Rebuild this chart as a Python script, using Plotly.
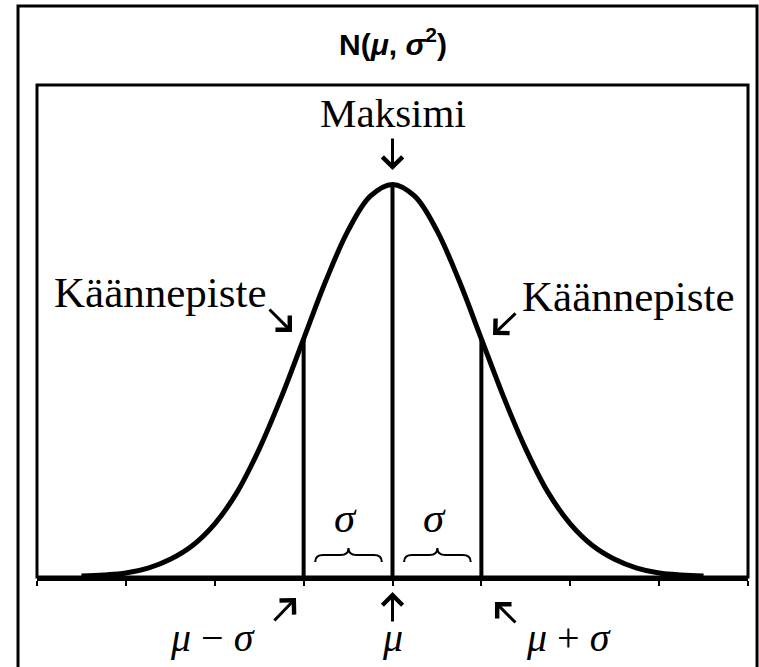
import plotly.graph_objects as go

# density of N(mu, sigma^2), x in units of sigma
x_vals = [-3.5, -3.25, -3.0, -2.75, -2.5, -2.25, -2.0, -1.75, -1.5, -1.25, -1.0, -0.75, -0.5, -0.25,
          0.0, 0.25, 0.5, 0.75, 1.0, 1.25, 1.5, 1.75, 2.0, 2.25, 2.5, 2.75, 3.0, 3.25, 3.5]
density = [0.001, 0.002, 0.004, 0.009, 0.018, 0.032, 0.054, 0.086, 0.130, 0.183, 0.242, 0.301, 0.352, 0.387,
           0.399, 0.387, 0.352, 0.301, 0.242, 0.183, 0.130, 0.086, 0.054, 0.032, 0.018, 0.009, 0.004, 0.002, 0.001]

# vertical markers at mu - sigma, mu, mu + sigma
marker_x = [-1, 0, 1]
marker_y = [0.242, 0.399, 0.242]
bottom_labels = ["<i>μ</i> − <i>σ</i>", "<i>μ</i>", "<i>μ</i> + <i>σ</i>"]

tick_vals = [-4, -3, -2, -1, 0, 1, 2, 3, 4]

SERIF = "Liberation Serif, Times New Roman, serif"
SANS = "Liberation Sans, Arial, sans-serif"

fig = go.Figure()

# the bell curve
fig.add_trace(
    go.Scatter(
        x=x_vals,
        y=density,
        mode="lines",
        line=dict(color="black", width=5, shape="spline"),
        showlegend=False,
        hoverinfo="skip",
    )
)

# vertical lines from axis up to the curve
vx, vy = [], []
for mx, my in zip(marker_x, marker_y):
    vx += [mx, mx, None]
    vy += [0, my, None]
fig.add_trace(
    go.Scatter(
        x=vx,
        y=vy,
        mode="lines",
        line=dict(color="black", width=4),
        showlegend=False,
        hoverinfo="skip",
    )
)

shapes = [
    # inner frame around plot area
    dict(type="rect", xref="paper", yref="paper", x0=0, x1=1, y0=0, y1=1,
         line=dict(color="black", width=3)),
    # outer frame
    dict(type="rect", xref="paper", yref="paper", x0=-0.0267, x1=1.0127, y0=-0.187, y1=1.1606,
         line=dict(color="black", width=3)),
]


def brace(x0, x1, y_bot, y_mid, y_top, d=0.09):
    xm = (x0 + x1) / 2
    path = (
        f"M{x0},{y_bot} Q{x0},{y_mid} {x0 + d},{y_mid} L{xm - d},{y_mid} "
        f"Q{xm},{y_mid} {xm},{y_top} Q{xm},{y_mid} {xm + d},{y_mid} "
        f"L{x1 - d},{y_mid} Q{x1},{y_mid} {x1},{y_bot}"
    )
    return dict(type="path", xref="x", yref="paper", path=path,
                line=dict(color="black", width=2))


# braces under the sigma labels
for a, b in zip(marker_x[:-1], marker_x[1:]):
    shapes.append(brace(a + 0.13, b - 0.12, 0.0305, 0.0447, 0.059))


def label(text, x, y, size, family=SERIF, xref="x"):
    return dict(text=text, xref=xref, yref="paper", x=x, y=y, xanchor="center", yanchor="middle",
                showarrow=False, font=dict(family=family, size=size, color="black"))


annotations = [
    label("<b>N(<i>μ</i>, <i>σ</i><sup>2</sup>)</b>", 0.5, 1.087, 30, family=SANS, xref="paper"),
    label("Maksimi", 0, 0.943, 41),
    label("Käännepiste", -2.605, 0.578, 43),
    label("Käännepiste", 2.66, 0.570, 43),
]

# sigma labels above braces
for a, b in zip(marker_x[:-1], marker_x[1:]):
    annotations.append(label("<i>σ</i>", (a + b) / 2 - 0.03, 0.12, 43))

# labels under the axis
for lab, lx in zip(bottom_labels, [-2.02, 0, 1.975]):
    annotations.append(label(lab, lx, -0.122, 40))

# arrows: (head x, head y paper, ax, ay)
arrows = [
    (0, 0.827, 0, -33),
    (-1.131, 0.498, -24, -24),
    (1.131, 0.492, 24, -23),
    (-1.086, -0.0427, -23, 24),
    (0, -0.0305, 0, 31),
    (1.153, -0.0508, 22, 22),
]
for hx, hy, ax, ay in arrows:
    annotations.append(
        dict(text="", xref="x", yref="paper", x=hx, y=hy, ax=ax, ay=ay,
             showarrow=True, arrowhead=4, arrowsize=1.3, arrowwidth=3, arrowcolor="black")
    )

fig.update_layout(
    width=759,
    height=667,
    margin=dict(l=37, r=11, t=85, b=90),
    paper_bgcolor="white",
    plot_bgcolor="white",
    showlegend=False,
    shapes=shapes,
    annotations=annotations,
    xaxis=dict(
        range=[-4, 4],
        tickvals=tick_vals,
        showticklabels=False,
        ticks="outside",
        ticklen=5,
        tickwidth=2,
        tickcolor="black",
        showline=True,
        linewidth=4,
        linecolor="black",
        showgrid=False,
        zeroline=False,
        fixedrange=True,
    ),
    yaxis=dict(range=[0, 0.5], visible=False, showgrid=False, zeroline=False, fixedrange=True),
)

# drop the default page margin so the figure fills the window exactly
fig.write_html(
    "out.html",
    config={"displayModeBar": False},
    post_script="document.body.style.margin='0';",
)
